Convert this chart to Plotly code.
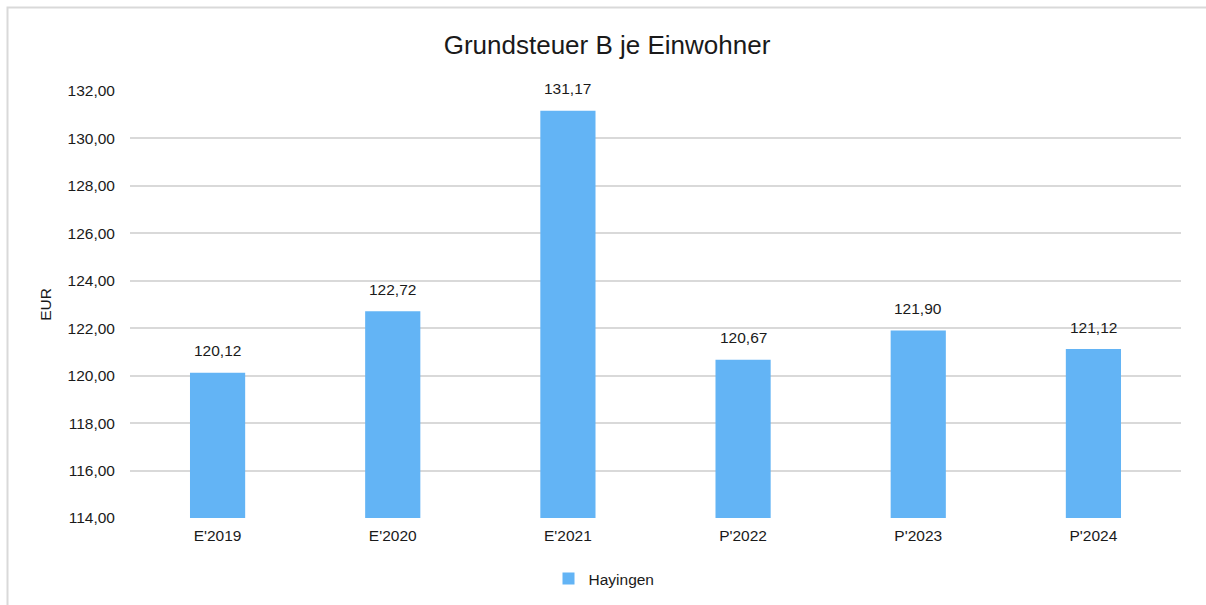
import plotly.graph_objects as go

categories = ["E'2019", "E'2020", "E'2021", "P'2022", "P'2023", "P'2024"]
values = [120.12, 122.72, 131.17, 120.67, 121.90, 121.12]
series_name = "Hayingen"
title = "Grundsteuer B je Einwohner"
y_title = "EUR"

W, H = 1206, 605
L, R, T, B = 130, 25, 91, 87
pw, ph = W - L - R, H - T - B

def px_x(p):
    return (p - L) / pw

def px_y(p):
    return (H - B - p) / ph

FS = 15.5
TXT = "#1a1a1a"

fig = go.Figure()
fig.add_trace(go.Bar(
    x=categories, y=values, name=series_name,
    marker=dict(color="#63B4F5", line=dict(width=0)),
    width=0.315,
    showlegend=True,
))

annotations = [
    dict(x=c, y=v, xref="x", yref="y", text=f"{v:.2f}".replace(".", ","),
         showarrow=False, yanchor="middle", yshift=22,
         font=dict(size=FS, color=TXT))
    for c, v in zip(categories, values)
]

fig.update_layout(
    width=W, height=H,
    margin=dict(l=L, r=R, t=T, b=B, autoexpand=False),
    paper_bgcolor="white", plot_bgcolor="white",
    font=dict(family="Liberation Sans, Arial, sans-serif", size=FS, color=TXT),
    separators=",.",
    title=dict(text=title, x=607 / W, xref="container", xanchor="center",
               y=1 - 45 / H, yanchor="middle", font=dict(size=26, color=TXT)),
    xaxis=dict(showgrid=False, showline=False, ticks="", ticklabelstandoff=6,
               tickfont=dict(size=FS), automargin=False),
    yaxis=dict(range=[114, 132], dtick=2, tick0=114, tickformat=".2f",
               showgrid=True, gridcolor="#D9D9D9", gridwidth=1.5,
               zeroline=False, showline=False, ticks="", ticklabelstandoff=14,
               automargin=False,
               title=dict(text=y_title, font=dict(size=FS), standoff=12)),
    legend=dict(orientation="h", x=px_x(604), xanchor="center", y=px_y(579), yanchor="middle",
                font=dict(size=FS), itemwidth=30),
    bargap=0.685,
    annotations=annotations,
    shapes=[dict(type="rect", xref="paper", yref="paper",
                 x0=px_x(7.5), x1=px_x(1215), y0=px_y(615), y1=px_y(7.5),
                 line=dict(color="#D9D9D9", width=2), layer="below")],
)

fig.write_html("out.html", config={"displayModeBar": False},
               post_script="document.body.style.margin='0';document.body.style.overflow='hidden';")
